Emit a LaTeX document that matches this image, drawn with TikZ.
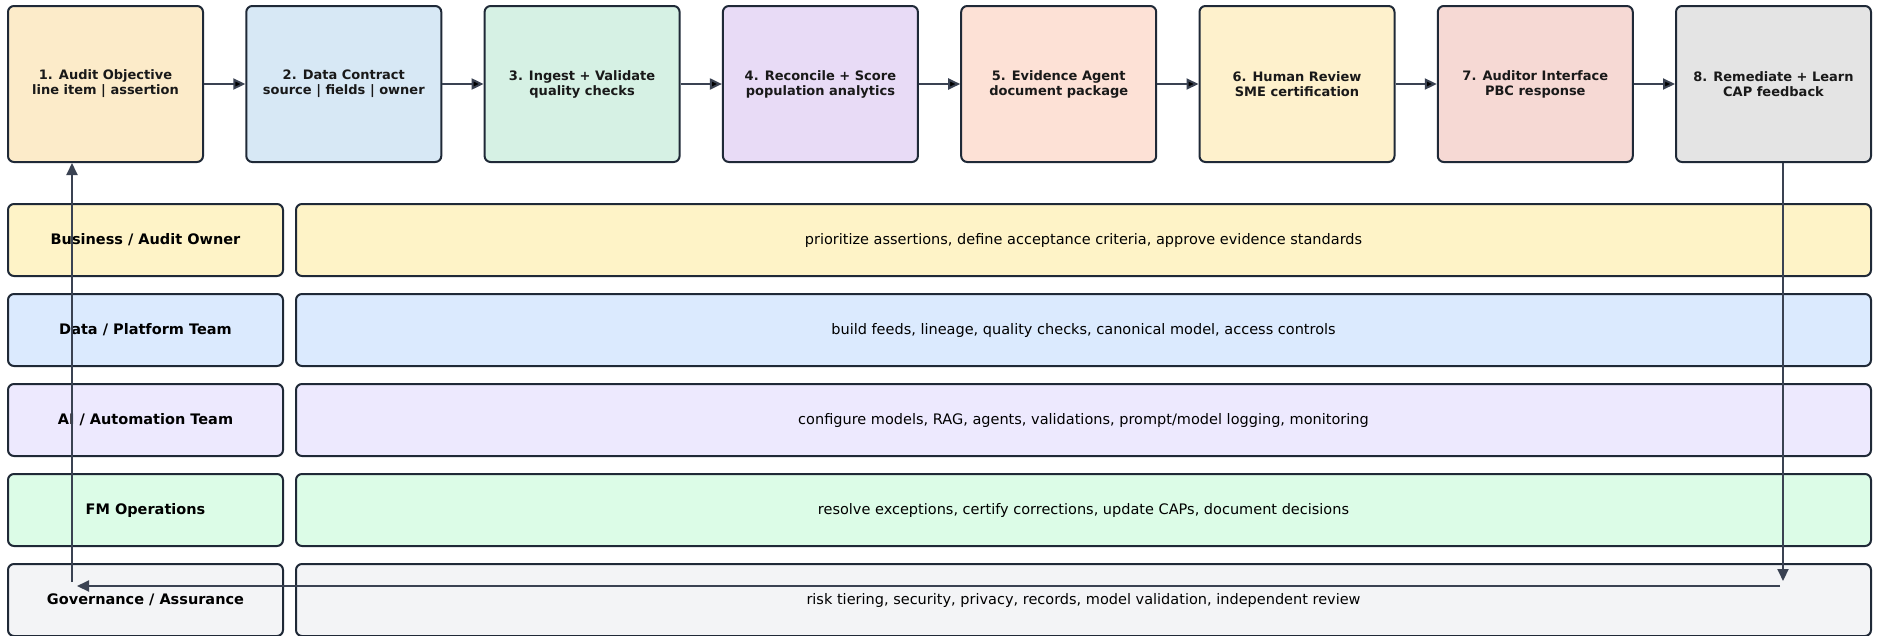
\documentclass[tikz,border=0pt]{standalone}
\usepackage{fontspec}
\setmainfont{DejaVu Sans}
\usetikzlibrary{arrows.meta}

\definecolor{edgegray}{HTML}{1F2937}
\definecolor{arrowgray}{HTML}{3A4252}
\definecolor{fillA}{HTML}{FCEBC9}
\definecolor{fillB}{HTML}{D7E8F5}
\definecolor{fillC}{HTML}{D6F1E4}
\definecolor{fillD}{HTML}{E8DBF6}
\definecolor{fillE}{HTML}{FDE1D6}
\definecolor{fillF}{HTML}{FEF1CC}
\definecolor{fillG}{HTML}{F6D9D4}
\definecolor{fillH}{HTML}{E4E4E4}
\definecolor{roleA}{HTML}{FEF3C7}
\definecolor{roleB}{HTML}{DBEAFE}
\definecolor{roleC}{HTML}{EDE9FE}
\definecolor{roleD}{HTML}{DCFCE7}
\definecolor{roleE}{HTML}{F3F4F6}

\begin{document}
\begin{tikzpicture}[x=1pt,y=-1pt,
	stage/.style={draw=edgegray, line width=2pt, rounded corners=6pt, align=center,
		minimum width=195pt, minimum height=156pt, inner sep=0pt,
		text=black!90, font=\fontsize{13}{15}\selectfont\bfseries},
	role/.style={draw=edgegray, line width=2pt, rounded corners=6pt,
		minimum width=275pt, minimum height=72pt, inner sep=0pt,
		font=\fontsize{14.5}{17}\selectfont\bfseries},
	duty/.style={draw=edgegray, line width=2pt, rounded corners=6pt,
		minimum width=1575pt, minimum height=72pt, inner sep=0pt,
		font=\fontsize{14.5}{17}\selectfont},
	flow/.style={draw=arrowgray, line width=2pt, -{Triangle[length=12pt,width=11pt]}}]

	\useasboundingbox (0,0) rectangle (1880,635);

	% pipeline stages
	\node (s1) [stage, fill=fillA] at (105.5, 84) {1. Audit Objective\\line item | assertion};
	\node (s2) [stage, fill=fillB] at (343.8, 84) {2. Data Contract\\source | fields | owner};
	\node (s3) [stage, fill=fillC] at (582.1, 84) {3. Ingest + Validate\\quality checks};
	\node (s4) [stage, fill=fillD] at (820.4, 84) {4. Reconcile + Score\\population analytics};
	\node (s5) [stage, fill=fillE] at (1058.7, 84) {5. Evidence Agent\\document package};
	\node (s6) [stage, fill=fillF] at (1297.0, 84) {6. Human Review\\SME certification};
	\node (s7) [stage, fill=fillG] at (1535.3, 84) {7. Auditor Interface\\PBC response};
	\node (s8) [stage, fill=fillH] at (1773.5, 84) {8. Remediate + Learn\\CAP feedback};

	\path[flow]
	(s1) edge (s2)
	(s2) edge (s3)
	(s3) edge (s4)
	(s4) edge (s5)
	(s5) edge (s6)
	(s6) edge (s7)
	(s7) edge (s8);

	% roles and duties
	\node (r1) [role, fill=roleA] at (145.5, 240) {Business / Audit Owner};
	\node (d1) [duty, fill=roleA] at (1083.5, 240) {prioritize assertions, define acceptance criteria, approve evidence standards};
	\node (r2) [role, fill=roleB] at (145.5, 330) {Data / Platform Team};
	\node (d2) [duty, fill=roleB] at (1083.5, 330) {build feeds, lineage, quality checks, canonical model, access controls};
	\node (r3) [role, fill=roleC] at (145.5, 420) {AI / Automation Team};
	\node (d3) [duty, fill=roleC] at (1083.5, 420) {configure models, RAG, agents, validations, prompt/model logging, monitoring};
	\node (r4) [role, fill=roleD] at (145.5, 510) {FM Operations};
	\node (d4) [duty, fill=roleD] at (1083.5, 510) {resolve exceptions, certify corrections, update CAPs, document decisions};
	\node (r5) [role, fill=roleE] at (145.5, 600) {Governance / Assurance};
	\node (d5) [duty, fill=roleE] at (1083.5, 600) {risk tiering, security, privacy, records, model validation, independent review};

	% feedback loop
	\coordinate (fbdown) at (1783, 581);
	\coordinate (fbright) at (1780, 586);
	\coordinate (fbleft) at (77, 586);
	\coordinate (fbup) at (72, 582);

	\draw[flow] (s8.south -| fbdown) -- (fbdown);
	\draw[flow] (fbright) -- (fbleft);
	\draw[flow] (fbup) -- (fbup |- s1.south);

\end{tikzpicture}
\end{document}
